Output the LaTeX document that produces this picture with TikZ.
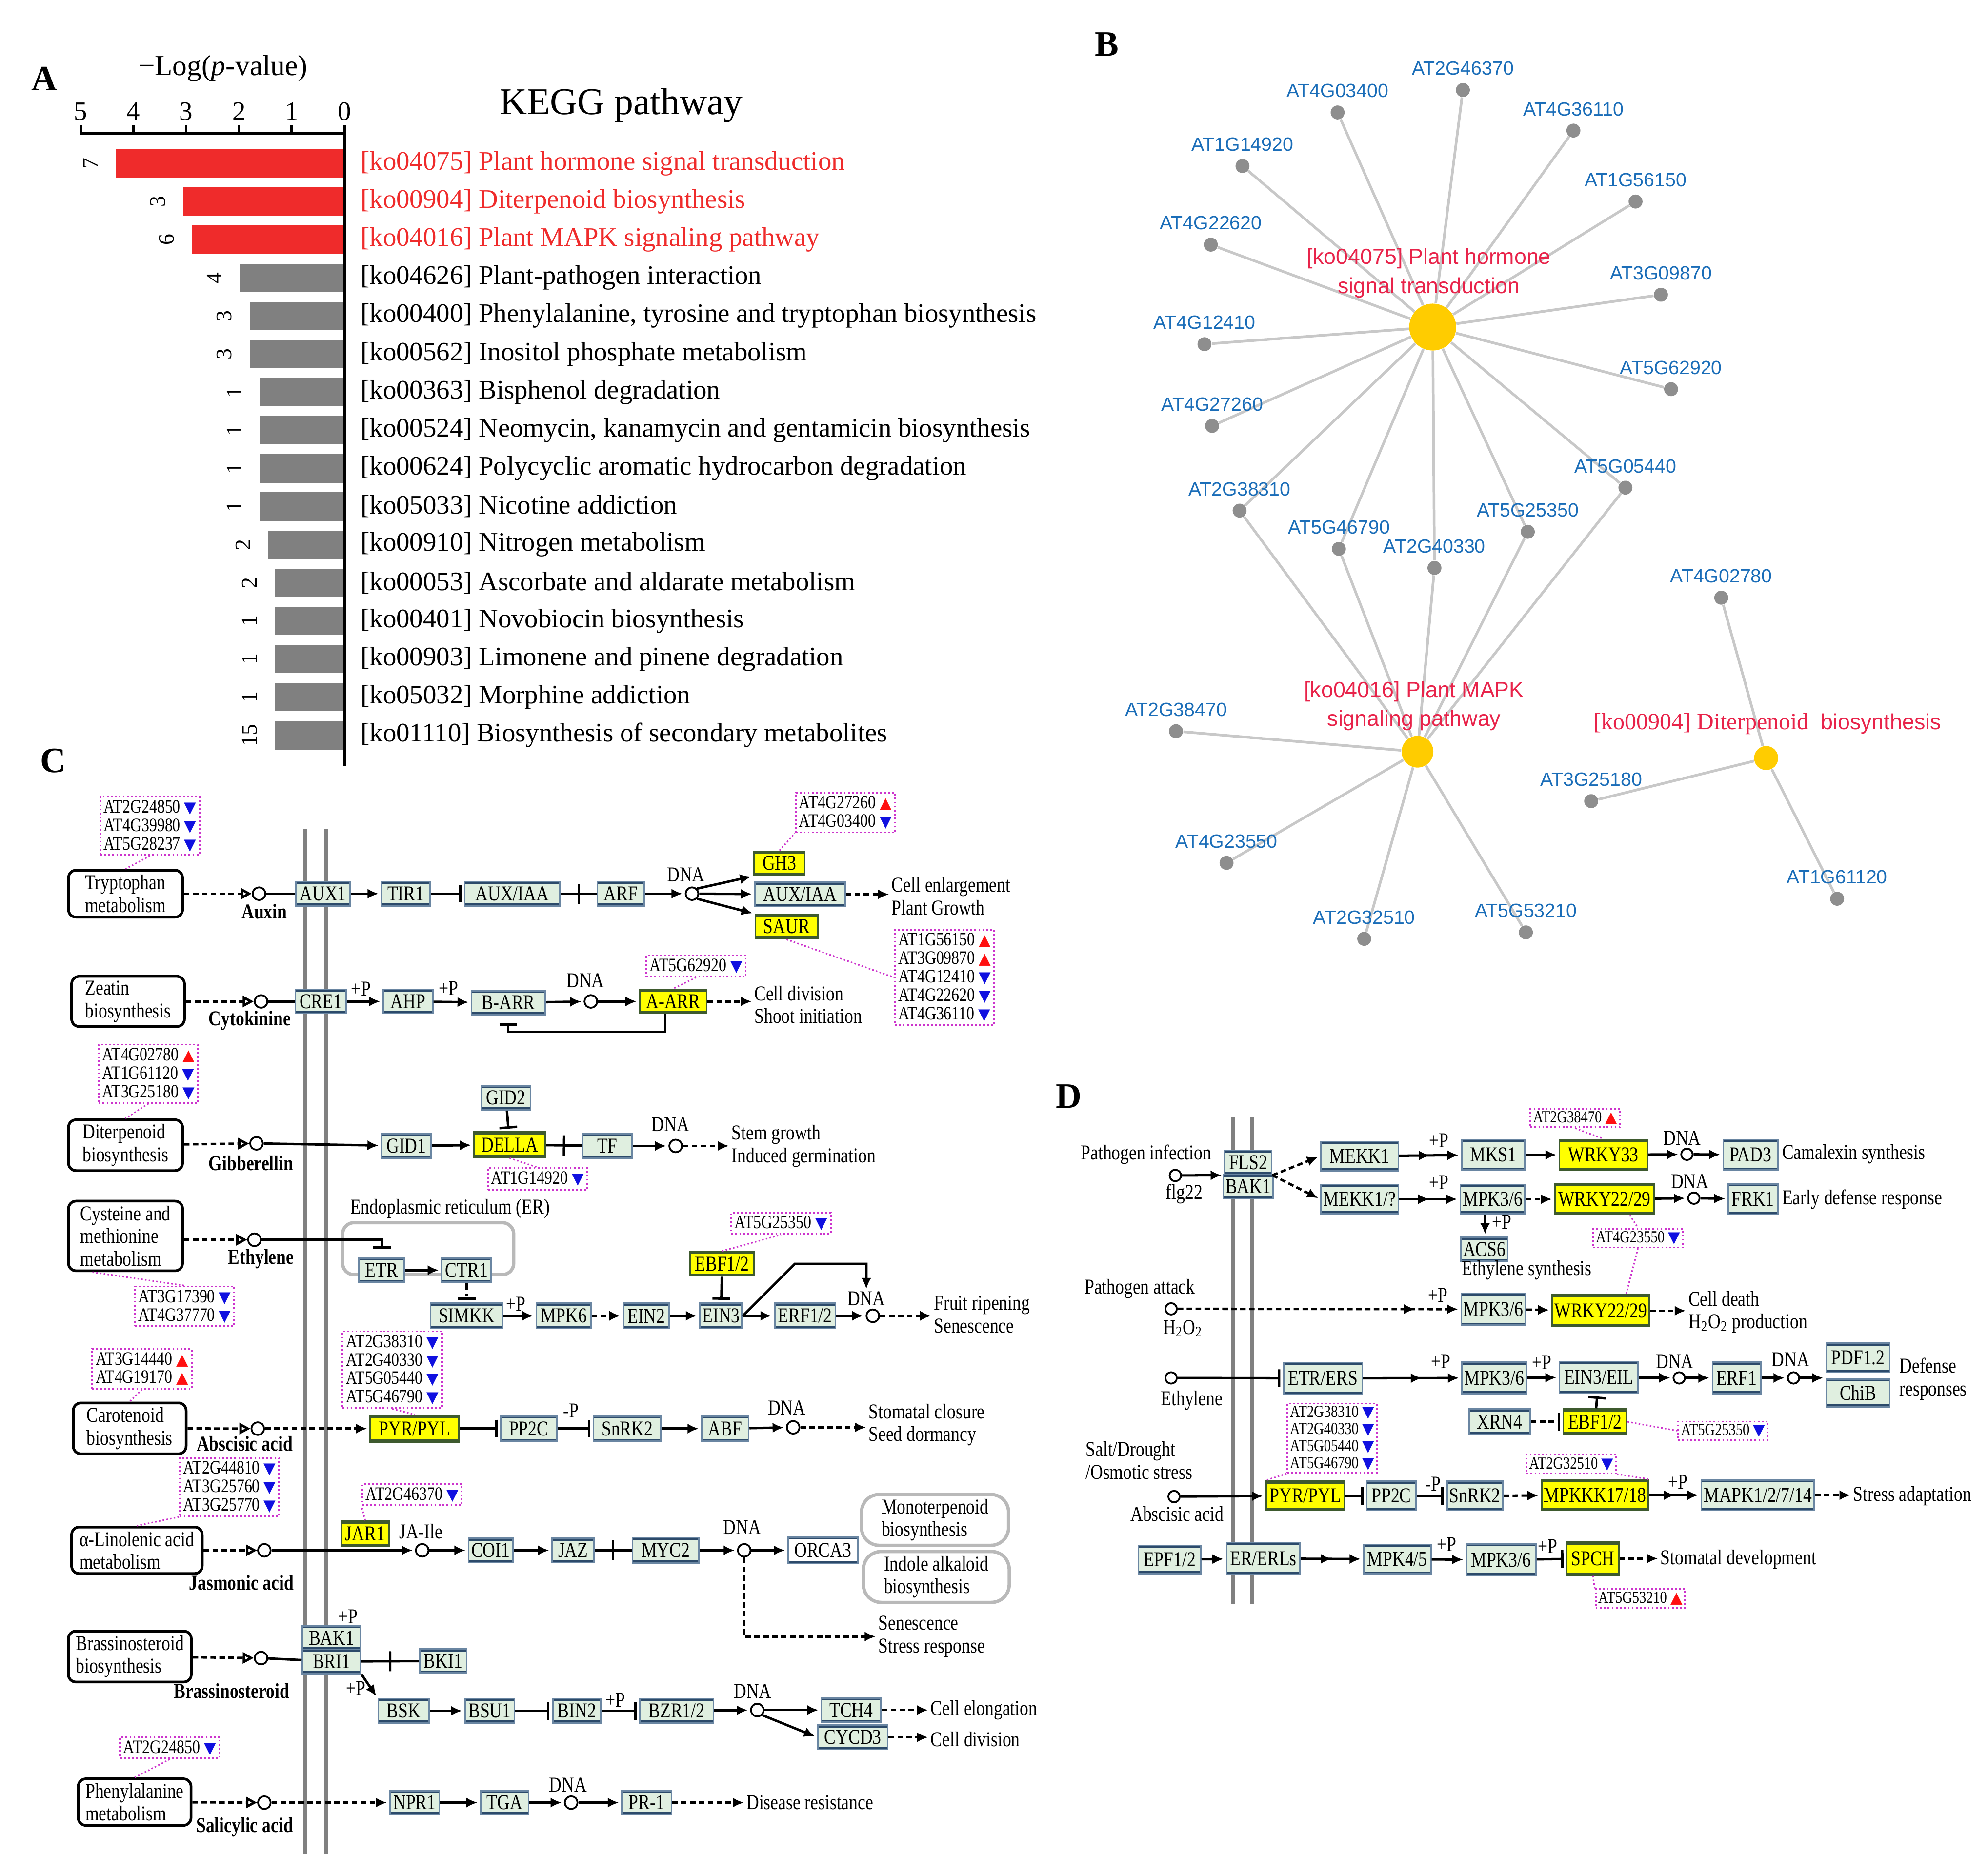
\documentclass[tikz,border=0pt]{standalone}
\usepackage{fontspec}
\setmainfont{Liberation Serif}
\setsansfont{Liberation Sans}
\newfontfamily\condserif[FakeStretch=0.82]{Liberation Serif}
\newfontfamily\symfont{DejaVu Sans}
\usetikzlibrary{arrows.meta, decorations.markings, backgrounds}

\definecolor{kfill}{HTML}{E0EFE0}
\definecolor{kline}{HTML}{6A86A2}
\definecolor{kedge}{HTML}{2C4A6A}
\definecolor{kyellow}{HTML}{FFFF00}
\definecolor{kdark}{HTML}{3E5A2E}
\definecolor{gmag}{HTML}{CC33CC}
\definecolor{upred}{HTML}{FF1010}
\definecolor{dnblue}{HTML}{1010E0}
\definecolor{barred}{HTML}{EF2B2B}
\definecolor{bargray}{HTML}{808080}
\definecolor{geneblue}{HTML}{1A6DB8}
\definecolor{hubred}{HTML}{E8234A}
\definecolor{hubyellow}{HTML}{FFCC00}
\definecolor{dotgray}{HTML}{8E8E8E}
\definecolor{edgegray}{HTML}{C8C8C8}

\newlength\ux
\setlength\ux{0.02cm}
\newcommand\kfont{\condserif\fontsize{9.5}{10.2}\selectfont}
\newcommand\gfont{\condserif\fontsize{8.5}{8.3}\selectfont}
\newcommand\gdfont{\condserif\fontsize{7.6}{7.6}\selectfont}
\newcommand\gup{~{\color{upred}\symfont\fontsize{7}{7}\selectfont ▲}}
\newcommand\gdn{~{\color{dnblue}\symfont\fontsize{7}{7}\selectfont ▼}}

\begin{document}
\begin{tikzpicture}[x=\ux, y=-\ux,
    plab/.style={font=\fontsize{16}{16}\selectfont\bfseries, inner sep=0pt},
    % panel A
    cnt/.style={rotate=90, font=\fontsize{10}{10}\selectfont, inner sep=0pt},
    pw/.style={anchor=west, font=\fontsize{12}{12}\selectfont, inner sep=0pt},
    % panel B
    leaf/.style={circle, fill=dotgray, inner sep=0pt, minimum size=11\ux},
    hub/.style={circle, fill=hubyellow, inner sep=0pt},
    glab/.style={font=\sffamily\fontsize{8.6}{9}\selectfont, text=geneblue, inner sep=0pt},
    hlab/.style={font=\sffamily\fontsize{9.8}{13}\selectfont, text=hubred, align=center, inner sep=0pt},
    edge/.style={draw=edgegray, line width=1.2pt},
    % panels C and D
    bw/.style={minimum width=#1\ux},
    bh/.style={minimum height=#1\ux},
    edges/.style={path picture={\draw[#1, line width=2.2pt]
      (path picture bounding box.north west) -- (path picture bounding box.north east)
      (path picture bounding box.south west) -- (path picture bounding box.south east);}},
    kbox/.style={draw=kline, fill=kfill, line width=0.7pt, minimum height=19\ux, inner sep=1pt, font=\kfont, edges=kedge},
    hit/.style={kbox, fill=kyellow, draw=kdark, edges=kdark},
    cpd/.style={draw, fill=white, line width=1.2pt, rounded corners=6\ux, align=left, font=\kfont, inner sep=2pt},
    mapbox/.style={draw=gray!55, line width=1.5pt, rounded corners=14\ux, align=left, font=\kfont, inner sep=2pt},
    glist/.style={draw=gmag, densely dotted, line width=0.8pt, fill=white, align=left, font=\gfont, inner sep=1.5pt},
    glistd/.style={glist, font=\gdfont, inner sep=1.2pt},
    glink/.style={draw=gmag, densely dotted, line width=0.7pt},
    sig/.style={circle, draw, fill=white, line width=0.8pt, inner sep=0pt, minimum size=10\ux},
    lbl/.style={font=\kfont, inner sep=0pt},
    horm/.style={font=\kfont\bfseries, inner sep=0pt},
    outl/.style={font=\kfont, anchor=west, align=left, inner sep=0pt},
    act/.style={-{Latex[length=5pt,width=4.5pt]}, line width=1.1pt, shorten >=1pt},
    dact/.style={act, dash pattern=on 2.5pt off 1.5pt},
    inh/.style={-{Bar[width=8pt,line width=1.1pt]}, line width=1.1pt, shorten >=2\ux},
    into/.style={-{Triangle[open,length=5pt,width=5pt]}, dash pattern=on 2.5pt off 1.5pt, line width=1.1pt},
    midbar/.style={postaction={decorate, decoration={markings, mark=at position 0.5 with {\draw[-, solid, line width=1pt] (0pt,-4.5pt) -- (0pt,4.5pt);}}}},
    twohead/.style={postaction={decorate, decoration={markings, mark=at position #1 with {\arrow{Latex[length=5pt,width=4.5pt]}}}}},
    twohead/.default=0.5,
    membrane/.style={draw=gray, line width=1.8pt}]
\useasboundingbox (0,0) rectangle (1568,1478);

% ---------------- A: KEGG enrichment bars
\node[plab] (pA) at (35,62) {A};
\node[font=\fontsize{13}{13}\selectfont, inner sep=0pt] (axt) at (176,54) {−Log(\textit{p}-value)};
\node[font=\fontsize{17}{17}\selectfont, inner sep=0pt] (kegg) at (490,83) {KEGG pathway};
\draw[line width=1.3pt] (63.6,105) -- (271.7,105) -- (271.7,604);
\foreach \v in {0,...,5} {
  \draw[line width=1.1pt] (271.7-41.62*\v,105) -- ++(0,-6);
  \node[font=\fontsize{12}{12}\selectfont, inner sep=0pt] (t\v) at (271.7-41.62*\v,88) {\v};
}
\foreach \bl/\cn/\bc/\tc/\txt [count=\i] in {
  91.3/7/barred/barred/{[ko04075] Plant hormone signal transduction},
  144.6/3/barred/barred/{[ko00904] Diterpenoid biosynthesis},
  151.4/6/barred/barred/{[ko04016] Plant MAPK signaling pathway},
  189.1/4/bargray/black/{[ko04626] Plant-pathogen interaction},
  196.9/3/bargray/black/{[ko00400] Phenylalanine, tyrosine and tryptophan biosynthesis},
  196.9/3/bargray/black/{[ko00562] Inositol phosphate metabolism},
  204.8/1/bargray/black/{[ko00363] Bisphenol degradation},
  204.8/1/bargray/black/{[ko00524] Neomycin, kanamycin and gentamicin biosynthesis},
  204.8/1/bargray/black/{[ko00624] Polycyclic aromatic hydrocarbon degradation},
  204.8/1/bargray/black/{[ko05033] Nicotine addiction},
  211.6/2/bargray/black/{[ko00910] Nitrogen metabolism},
  216.8/2/bargray/black/{[ko00053] Ascorbate and aldarate metabolism},
  216.8/1/bargray/black/{[ko00401] Novobiocin biosynthesis},
  216.8/1/bargray/black/{[ko00903] Limonene and pinene degradation},
  216.8/1/bargray/black/{[ko05032] Morphine addiction},
  216.8/15/bargray/black/{[ko01110] Biosynthesis of secondary metabolites}} {
  \pgfmathsetmacro\yy{129+(\i-1)*30.07}
  \fill[\bc] (\bl,\yy-11.2) rectangle (270.5,\yy+11.2);
  \node[cnt] (n\i) at (\bl-20,\yy) {\cn};
  \node[pw, text=\tc] (k\i) at (284.2,\yy) {\txt};
}

% ---------------- B: gene-pathway network
\node[plab] (pB) at (873,35) {B};
\node[hub, minimum size=37\ux] (h75) at (1130,258) {};
\node[hub, minimum size=25\ux] (h16) at (1118,593) {};
\node[hub, minimum size=19\ux] (h904) at (1393,598) {};
\foreach \g/\x/\y in {AT2G46370/1153.8/71, AT4G03400/1055/88.7, AT4G36110/1241/103,
  AT1G14920/980/131, AT1G56150/1290/159, AT4G22620/955/193, AT3G09870/1310/232.5,
  AT4G12410/950/271.5, AT5G62920/1318/307, AT4G27260/956/336, AT5G05440/1282/384.7,
  AT2G38310/977.7/402.8, AT5G25350/1205/419.5, AT5G46790/1056/433, AT2G40330/1131.4/448,
  AT4G02780/1357.6/471.5, AT2G38470/927.5/576.8, AT3G25180/1255/632, AT4G23550/967.4/680.7,
  AT1G61120/1449/709, AT2G32510/1076/740.6, AT5G53210/1203.5/735.5} {
  \node[leaf] (\g) at (\x,\y) {};
  \node[glab] (\g-l) at (\x,\y-17) {\g};
}
\begin{pgfonlayer}{background}
\foreach \g in {AT2G46370, AT4G03400, AT4G36110, AT1G14920, AT1G56150, AT4G22620, AT3G09870,
  AT4G12410, AT5G62920, AT4G27260, AT5G05440, AT2G38310, AT5G25350, AT5G46790, AT2G40330}
  \draw[edge] (h75) -- (\g);
\foreach \g in {AT2G38310, AT5G46790, AT2G40330, AT5G25350, AT5G05440, AT2G38470,
  AT4G23550, AT2G32510, AT5G53210}
  \draw[edge] (h16) -- (\g);
\foreach \g in {AT4G02780, AT3G25180, AT1G61120}
  \draw[edge] (h904) -- (\g);
\end{pgfonlayer}
\node[hlab] (h75-l) at (1127,215.5) {[ko04075] Plant hormone\\signal transduction};
\node[hlab] (h16-l) at (1115.3,557) {[ko04016] Plant MAPK\\signaling pathway};
\node[hlab] (h904-l) at (1394,571) {{\rmfamily\fontsize{10.5}{12}\selectfont [ko00904] Diterpenoid}\ \ biosynthesis};

% ---------------- C: plant hormone signal transduction map
\node[plab] (pC) at (42,600) {C};
\draw[membrane] (240.5,654) -- (240.5,1463);
\draw[membrane] (257.5,654) -- (257.5,1463);

% auxin
\node[glist] (gl1) at (118.3,651.5) {AT2G24850\gdn\\AT4G39980\gdn\\AT5G28237\gdn};
\node[cpd, bw=90, bh=37] (trp) at (99,705) {Tryptophan\\metabolism};
\node[sig] (auxc) at (204.3,705) {};
\node[horm] (auxl) at (208.5,719) {Auxin};
\node[kbox, bw=43] (aux1) at (254.8,705) {AUX1};
\node[kbox, bw=38] (tir1) at (320,705) {TIR1};
\node[kbox, bw=75] (auxiaa) at (404,705) {AUX/IAA};
\node[kbox, bw=37] (arf) at (489.6,705) {ARF};
\node[sig] (dna1) at (545.8,705) {};
\node[lbl] (dna1l) at (541,690) {DNA};
\node[hit, bw=40] (gh3) at (614.8,681) {GH3};
\node[kbox, bw=71] (auxiaa2) at (631,705.5) {AUX/IAA};
\node[hit, bw=49] (saur) at (620.4,731) {SAUR};
\node[outl] (out1) at (703,707) {Cell enlargement\\Plant Growth};
\node[glist] (gl2) at (666.8,641) {AT4G27260\gup\\AT4G03400\gdn};
\node[glist] (gl3) at (745,771) {AT1G56150\gup\\AT3G09870\gup\\AT4G12410\gdn\\AT4G22620\gdn\\AT4G36110\gdn};
\draw[glink] (gl1.south) -- (trp.north);
\draw[into] (trp) -- (auxc);
\draw[line width=1.1pt] (auxc) -- (aux1);
\draw[act] (aux1) -- (tir1);
\draw[inh] (tir1) -- (auxiaa);
\draw[line width=1.1pt, midbar] (auxiaa) -- (arf);
\draw[act] (arf) -- (dna1);
\draw[act] (dna1.north east) -- (gh3.south west);
\draw[act] (dna1) -- (auxiaa2);
\draw[act] (dna1.south east) -- (saur.north west);
\draw[dact] (auxiaa2) -- (auxiaa2 -| out1.west);
\draw[glink] (gh3.north) -- (gl2.south west);
\draw[glink] (saur.south) -- (gl3.west);

% cytokinine
\node[cpd, bw=89, bh=37] (zea) at (101,790) {Zeatin\\biosynthesis};
\node[sig] (cytc) at (205.9,790) {};
\node[horm] (cytl) at (197,805) {Cytokinine};
\node[kbox, bw=40] (cre1) at (253,790) {CRE1};
\node[lbl] (p1) at (284.7,780) {+P};
\node[kbox, bw=39] (ahp) at (321.8,790) {AHP};
\node[lbl] (p2) at (353.7,779.5) {+P};
\node[kbox, bw=58] (barr) at (401,791) {B-ARR};
\node[lbl] (dna2l) at (461.8,773.5) {DNA};
\node[sig] (dna2) at (466,790) {};
\node[hit, bw=53] (aarr) at (531,790) {A-ARR};
\node[outl] (out2) at (594.7,792.5) {Cell division\\Shoot initiation};
\node[glist] (gl4) at (549,762) {AT5G62920\gdn};
\draw[into] (zea) -- (cytc);
\draw[line width=1.1pt] (cytc) -- (cre1);
\draw[act] (cre1) -- (ahp);
\draw[act] (ahp) -- (barr);
\draw[act] (barr) -- (dna2);
\draw[act] (dna2) -- (aarr);
\draw[dact] (aarr) -- (aarr -| out2.west);
\draw[glink] (gl4.south) -- (aarr.north);
\draw[inh, line width=0.9pt] ([xshift=-6\ux]aarr.south) -- ++(0,14) -| ([yshift=-4\ux]barr.south);

% gibberellin
\node[glist] (gl5) at (117,847) {AT4G02780\gup\\AT1G61120\gdn\\AT3G25180\gdn};
\node[cpd, bw=90, bh=37] (dit) at (99,903.4) {Diterpenoid\\biosynthesis};
\node[sig] (gibc) at (202.3,902) {};
\node[horm] (gibl) at (198,917.6) {Gibberellin};
\node[kbox, bw=39] (gid1) at (320.5,904) {GID1};
\node[hit, bw=56, bh=20] (della) at (402,903) {DELLA};
\node[kbox, bw=39] (gid2) at (399,866) {GID2};
\node[kbox, bw=39] (tf) at (479,904) {TF};
\node[lbl] (dna3l) at (528.8,887) {DNA};
\node[sig] (dna3) at (532.9,904) {};
\node[outl] (out3) at (576.7,904) {Stem growth\\Induced germination};
\node[glist] (gl6) at (424,930) {AT1G14920\gdn};
\draw[glink] (gl5.south) -- (dit.north);
\draw[into] (dit) -- (gibc);
\draw[act] (gibc) -- (gid1);
\draw[act] (gid1) -- (della);
\draw[inh] (gid2) -- (della);
\draw[line width=1.1pt, midbar] (della) -- (tf);
\draw[act] (tf) -- (dna3);
\draw[dact] (dna3) -- (dna3 -| out3.west);
\draw[glink] (della.south) -- (gl6.north);

% ethylene
\node[cpd, bw=90, bh=55] (cys) at (99,975) {Cysteine and\\methionine\\metabolism};
\node[glist] (gl7) at (145.6,1030.5) {AT3G17390\gdn\\AT4G37770\gdn};
\node[sig] (ethc) at (200.7,978) {};
\node[horm] (ethl) at (205.9,993) {Ethylene};
\node[lbl] (erl) at (355,953.5) {Endoplasmic reticulum (ER)};
\node[mapbox, rounded corners=9\ux, bw=135, bh=41] (er) at (337.7,985) {};
\node[kbox, bw=36] (etr) at (301,1002) {ETR};
\node[kbox, bw=39] (ctr1) at (368,1002) {CTR1};
\node[kbox, bw=57, bh=20] (simkk) at (368,1038) {SIMKK};
\node[lbl] (p3) at (406.7,1028.6) {+P};
\node[kbox, bw=43, bh=20] (mpk6) at (444.6,1038) {MPK6};
\node[kbox, bw=36, bh=20] (ein2) at (509.8,1038) {EIN2};
\node[kbox, bw=33, bh=20] (ein3) at (568.7,1038) {EIN3};
\node[hit, bw=50] (ebf) at (569.5,997) {EBF1/2};
\node[glist] (gl8) at (616,965) {AT5G25350\gdn};
\node[kbox, bw=48, bh=20] (erf12) at (635,1038) {ERF1/2};
\node[lbl] (dna4l) at (683.3,1024.5) {DNA};
\node[sig] (dna4) at (688.4,1038) {};
\node[outl] (out4) at (736.3,1037) {Fruit ripening\\Senescence};
\draw[glink] ([xshift=20\ux]cys.south west) -- (gl7.north);
\draw[into] (cys.east |- ethc) -- (ethc);
\draw[inh] (ethc) -| ([yshift=5\ux]etr.north);
\draw[act] (etr) -- (ctr1);
\draw[inh, dash dot] (ctr1) -- (simkk);
\draw[act] (simkk) -- (mpk6);
\draw[dact] (mpk6) -- (ein2);
\draw[act] (ein2) -- (ein3);
\draw[inh] (ebf) -- (ein3);
\draw[glink] (ebf.north) -- (gl8.south);
\draw[act] (ein3) -- (erf12);
\draw[act] (erf12) -- (dna4);
\draw[act] (ein3.east) -- ++(41,-41) -| (dna4l.north);
\draw[dact] (dna4) -- (dna4 -| out4.west);

% abscisic acid
\node[glist] (gl9) at (309.4,1080.5) {AT2G38310\gdn\\AT2G40330\gdn\\AT5G05440\gdn\\AT5G46790\gdn};
\node[glist] (gl10) at (112,1079.7) {AT3G14440\gup\\AT4G19170\gup};
\node[cpd, bw=89, bh=36] (car) at (102.3,1126.8) {Carotenoid\\biosynthesis};
\node[sig] (abac) at (203.3,1127) {};
\node[horm] (abal) at (193,1139) {Abscisic acid};
\node[hit, bw=70, bh=21] (pyr) at (327,1127) {PYR/PYL};
\node[kbox, bw=44, bh=20] (pp2c) at (417,1127) {PP2C};
\node[lbl] (pm1) at (450.5,1113) {-P};
\node[kbox, bw=53, bh=20] (snrk2) at (494.7,1127) {SnRK2};
\node[kbox, bw=37, bh=20] (abf) at (572,1127) {ABF};
\node[lbl] (dna5l) at (620.5,1110.7) {DNA};
\node[sig] (dna5) at (625.6,1126) {};
\node[outl] (out5) at (684.8,1124) {Stomatal closure\\Seed dormancy};
\draw[glink] (gl10.south) -- (car.north);
\draw[into] (car) -- (abac);
\draw[dact] (abac) -- (pyr);
\draw[inh] (pyr) -- (pp2c);
\draw[inh] (pp2c) -- (snrk2);
\draw[act] (snrk2) -- (abf);
\draw[act] (abf) -- (dna5);
\draw[dact] (dna5) -- (dna5 -| out5.west);
\draw[glink] (gl9.south) -- (pyr.north);

% jasmonic acid
\node[glist] (gl11) at (181,1173) {AT2G44810\gdn\\AT3G25760\gdn\\AT3G25770\gdn};
\node[cpd, bw=103, bh=36] (lin) at (108,1223) {α-Linolenic acid\\metabolism};
\node[sig] (jac) at (208.5,1223) {};
\node[horm] (jal) at (190.4,1248.6) {Jasmonic acid};
\node[hit, bw=38, bh=20] (jar1) at (288,1210) {JAR1};
\node[glist] (gl12) at (325,1179) {AT2G46370\gdn};
\node[lbl] (jail) at (332,1208) {JA-Ile};
\node[sig] (jaic) at (333,1223) {};
\node[kbox, bw=35] (coi1) at (387,1223) {COI1};
\node[kbox, bw=33] (jaz) at (452,1223) {JAZ};
\node[kbox, bw=52, bh=20] (myc2) at (525,1223) {MYC2};
\node[lbl] (dna6l) at (585.4,1205) {DNA};
\node[sig] (dna6) at (587,1223) {};
\node[kbox, fill=white, bw=55, bh=21] (orca3) at (649,1223) {ORCA3};
\node[mapbox, bw=116, bh=40] (mono) at (737.5,1199) {Monoterpenoid\\biosynthesis};
\node[mapbox, bw=115, bh=39] (indo) at (738.5,1244) {Indole alkaloid\\biosynthesis};
\node[outl] (out6) at (692.5,1291) {Senescence\\Stress response};
\draw[glink] (gl11.south west) -- (lin.north);
\draw[into] (lin) -- (jac);
\draw[act] (jac) -- (jaic);
\draw[glink] (jar1.north) -- (gl12.south west);
\draw[act] (jaic) -- (coi1);
\draw[act] (coi1) -- (jaz);
\draw[line width=1.1pt, midbar] (jaz) -- (myc2);
\draw[act] (myc2) -- (dna6);
\draw[act] (dna6) -- (orca3);
\draw[dact] (dna6.south) |- (out6.west);

% brassinosteroid
\node[cpd, bw=97, bh=36] (bra) at (102.4,1306.8) {Brassinosteroid\\biosynthesis};
\node[sig] (brc) at (205.9,1308) {};
\node[horm] (brl) at (182.7,1334) {Brassinosteroid};
\node[lbl] (p4) at (274.4,1275.4) {+P};
\node[kbox, bw=46, bh=19] (bak1) at (261.5,1292) {BAK1};
\node[kbox, bw=46, bh=19] (bri1) at (261.5,1310.7) {BRI1};
\node[kbox, bw=37] (bki1) at (349.5,1310.3) {BKI1};
\node[lbl] (p5) at (280.6,1332) {+P};
\node[kbox, bw=40] (bsk) at (318.4,1349.6) {BSK};
\node[kbox, bw=39] (bsu1) at (386.3,1349.6) {BSU1};
\node[kbox, bw=38] (bin2) at (455,1349.6) {BIN2};
\node[lbl] (p6) at (485.5,1341) {+P};
\node[kbox, bw=58] (bzr) at (533.7,1349.6) {BZR1/2};
\node[lbl] (dna7l) at (593.7,1334) {DNA};
\node[sig] (dna7) at (597.3,1349) {};
\node[kbox, bw=47] (tch4) at (671.4,1349) {TCH4};
\node[kbox, bw=55] (cycd3) at (672.7,1370.5) {CYCD3};
\node[outl] (out7) at (733.8,1349) {Cell elongation};
\node[outl] (out8) at (733.8,1372) {Cell division};
\draw[into] (bra) -- (brc);
\draw[line width=1.1pt] (brc) -- (bri1);
\draw[line width=1.1pt, midbar] (bri1) -- (bki1);
\draw[act] (bri1.south east) -- (bsk.north west);
\draw[act] (bsk) -- (bsu1);
\draw[inh] (bsu1) -- (bin2);
\draw[inh] (bin2) -- (bzr);
\draw[act] (bzr) -- (dna7);
\draw[act] (dna7) -- (tch4);
\draw[act] (dna7.south east) -- (cycd3.west);
\draw[dact] (tch4) -- (tch4 -| out7.west);
\draw[dact] (cycd3) -- (cycd3 -| out8.west);

% salicylic acid
\node[glist] (gl13) at (133.8,1378.8) {AT2G24850\gdn};
\node[cpd, bw=89, bh=36] (phe) at (106.2,1421.6) {Phenylalanine\\metabolism};
\node[sig] (sac) at (208.5,1422) {};
\node[horm] (sal) at (193,1441.4) {Salicylic acid};
\node[kbox, bw=39] (npr1) at (327,1422) {NPR1};
\node[kbox, bw=38] (tga) at (398,1422) {TGA};
\node[lbl] (dna8l) at (448,1408) {DNA};
\node[sig] (dna8) at (450.5,1422) {};
\node[kbox, bw=39] (pr1) at (510,1422) {PR-1};
\node[outl] (out9) at (588.5,1422) {Disease resistance};
\draw[glink] (gl13.south) -- (phe.north);
\draw[into] (phe) -- (sac);
\draw[dact] (sac) -- (npr1);
\draw[act] (npr1) -- (tga);
\draw[act] (tga) -- (dna8);
\draw[act] (dna8) -- (pr1);
\draw[dact] (pr1) -- (out9.west);

% ---------------- D: plant MAPK signaling map
\node[plab] (pD) at (843,865) {D};
\draw[membrane] (972.8,881.7) -- (972.8,1265);
\draw[membrane] (987.8,881.7) -- (987.8,1265);

% pathogen infection
\node[lbl] (pinf) at (904,910.6) {Pathogen infection};
\node[sig, minimum size=9\ux] (flgc) at (927,927.3) {};
\node[lbl] (flgl) at (934,942) {flg22};
\node[kbox, bw=37, bh=19] (fls2) at (984.5,917) {FLS2};
\node[kbox, bw=37, bh=19] (dbak1) at (984.5,936) {BAK1};
\node[kbox, bw=61, bh=23] (mekk1) at (1072.4,912) {MEKK1};
\node[lbl] (pd1) at (1135,899.7) {+P};
\node[kbox, bw=50, bh=24] (mks1) at (1177.8,911) {MKS1};
\node[hit, bw=69, bh=24] (wrky33) at (1264.6,911) {WRKY33};
\node[lbl] (dnad1l) at (1326.7,897.8) {DNA};
\node[sig, minimum size=9\ux] (dnad1) at (1330.5,910.6) {};
\node[kbox, bw=43, bh=24] (pad3) at (1380.7,911) {PAD3};
\node[outl] (cam) at (1405.3,910.6) {Camalexin synthesis};
\node[glistd] (gld1) at (1242.4,882) {AT2G38470\gup};
\node[kbox, bw=61, bh=23] (mekk2) at (1072.4,946) {MEKK1/?};
\node[lbl] (pd2) at (1135,933) {+P};
\node[kbox, bw=51, bh=23] (mpk36a) at (1177.3,946) {MPK3/6};
\node[hit, bw=78, bh=24] (wrky2229a) at (1265.5,946) {WRKY22/29};
\node[lbl] (dnad2l) at (1332.8,932.2) {DNA};
\node[sig, minimum size=9\ux] (dnad2) at (1336,945.2) {};
\node[kbox, bw=39, bh=24] (frk1) at (1382.6,946) {FRK1};
\node[outl] (edr) at (1405.3,946) {Early defense response};
\node[kbox, bw=36, bh=19] (acs6) at (1170.8,985.5) {ACS6};
\node[lbl] (pd3) at (1184.6,963.8) {+P};
\node[outl] (ethsyn) at (1152.8,1002) {Ethylene synthesis};
\node[glistd] (gld2) at (1291.9,976.7) {AT4G23550\gdn};
\draw[act] (flgc) -- (fls2.south west);
\draw[dact] (fls2.south east) -- (mekk1.west);
\draw[dact] (fls2.south east) -- (mekk2.west);
\draw[act, twohead] (mekk1) -- (mks1);
\draw[act] (mks1) -- (wrky33);
\draw[act] (wrky33) -- (dnad1);
\draw[act] (dnad1) -- (pad3);
\draw[glink] (gld1.south) -- (wrky33.north);
\draw[act, twohead] (mekk2) -- (mpk36a);
\draw[dact] (mpk36a) -- (wrky2229a);
\draw[act] (wrky2229a) -- (dnad2);
\draw[act] (dnad2) -- (frk1);
\draw[act] ([xshift=-6\ux]mpk36a.south) -- ([xshift=-6\ux]mpk36a.south |- acs6.north);
\draw[glink] ([xshift=20\ux]wrky2229a.south) -- (gld2.north);

% pathogen attack
\node[lbl] (patt) at (899,1016.5) {Pathogen attack};
\node[sig, minimum size=9\ux] (h2o2c) at (923.7,1032.5) {};
\node[lbl] (h2o2l) at (933,1048) {H\textsubscript{2}O\textsubscript{2}};
\node[lbl] (pd4) at (1134,1021.6) {+P};
\node[kbox, bw=50, bh=25] (mpk36b) at (1177.8,1032.8) {MPK3/6};
\node[hit, bw=75, bh=25] (wrky2229b) at (1262.6,1034) {WRKY22/29};
\node[outl] (celld) at (1331.4,1035) {Cell death\\H\textsubscript{2}O\textsubscript{2} production};
\draw[dact, twohead=0.84] (h2o2c) -- (mpk36b);
\draw[dact] (mpk36b) -- (wrky2229b);
\draw[dact] (wrky2229b) -- (wrky2229b -| celld.west);
\draw[glink] (gld2.south) -- ([xshift=20\ux]wrky2229b.north);

% ethylene
\node[sig, minimum size=9\ux] (ethdc) at (923.7,1087) {};
\node[lbl] (ethdl) at (940,1104.8) {Ethylene};
\node[kbox, bw=62, bh=25] (etrers) at (1043.4,1087.3) {ETR/ERS};
\node[lbl] (pd5) at (1136.4,1074.1) {+P};
\node[kbox, bw=49, bh=25] (mpk36c) at (1178.5,1087) {MPK3/6};
\node[lbl] (pd6) at (1216,1074.8) {+P};
\node[kbox, bw=62, bh=25] (ein3eil) at (1261,1086.5) {EIN3/EIL};
\node[lbl] (dnad3l) at (1321,1074) {DNA};
\node[sig, minimum size=9\ux] (dnad3) at (1324.4,1087) {};
\node[kbox, bw=38, bh=25] (erf1) at (1369.7,1087) {ERF1};
\node[lbl] (dnad4l) at (1412.3,1072.6) {DNA};
\node[sig, minimum size=9\ux] (dnad4) at (1414.6,1087) {};
\node[kbox, bw=50, bh=23] (pdf12) at (1465.5,1071) {PDF1.2};
\node[kbox, bw=50, bh=22] (chib) at (1465.5,1098.8) {ChiB};
\node[outl] (defr) at (1497.8,1088) {Defense\\responses};
\node[kbox, bw=48, bh=20] (xrn4) at (1182.8,1121.6) {XRN4};
\node[hit, bw=50, bh=20] (debf) at (1258,1121.6) {EBF1/2};
\node[glistd] (gld3) at (1359,1128.7) {AT5G25350\gdn};
\draw[inh] (ethdc) -- (etrers);
\draw[act, twohead=0.6] (etrers) -- (mpk36c);
\draw[act] (mpk36c) -- (ein3eil);
\draw[act] (ein3eil) -- (dnad3);
\draw[act] (dnad3) -- (erf1);
\draw[act] (erf1) -- (dnad4);
\draw[act] (dnad4) -- (dnad4 -| pdf12.west);
\draw[inh] (debf) -- (ein3eil);
\draw[inh, dash pattern=on 2.5pt off 1.5pt] (xrn4) -- (debf);
\draw[glink] (debf.east) -- (gld3.west);

% abscisic acid
\node[glistd] (gld4) at (1050.6,1134.5) {AT2G38310\gdn\\AT2G40330\gdn\\AT5G05440\gdn\\AT5G46790\gdn};
\node[outl] (salt) at (856,1152) {Salt/Drought\\/Osmotic stress};
\node[sig, minimum size=9\ux] (dabac) at (926,1180.6) {};
\node[lbl] (dabal) at (928.4,1194.2) {Abscisic acid};
\node[hit, bw=62, bh=23] (dpyr) at (1029.6,1180) {PYR/PYL};
\node[kbox, bw=39, bh=23] (dpp2c) at (1097.4,1180) {PP2C};
\node[lbl] (pdm) at (1130.4,1170.6) {-P};
\node[kbox, bw=44, bh=23] (dsnrk2) at (1163.3,1180) {SnRK2};
\node[hit, bw=84, bh=24] (mpkkk) at (1258,1179.5) {MPKKK17/18};
\node[glistd] (gld5) at (1239.3,1154.9) {AT2G32510\gdn};
\node[lbl] (pd7) at (1323.4,1169.2) {+P};
\node[kbox, bw=89, bh=24] (mapk) at (1386.5,1179.5) {MAPK1/2/7/14};
\node[outl] (stradapt) at (1461.4,1180) {Stress adaptation};
\draw[glink] (gld4.south west) -- (dpyr.north west);
\draw[act] (dabac) -- (dpyr);
\draw[inh] (dpyr) -- (dpp2c);
\draw[inh] (dpp2c) -- (dsnrk2);
\draw[dact] (dsnrk2) -- (mpkkk);
\draw[act, twohead] (mpkkk) -- (mapk);
\draw[dact] (mapk) -- (mapk -| stradapt.west);
\draw[glink] (gld5.south east) -- (mpkkk.north east);

% stomatal development
\node[kbox, bw=49, bh=22] (epf) at (922.5,1230.3) {EPF1/2};
\node[kbox, bw=58, bh=25] (erl2) at (996.4,1229.5) {ER/ERLs};
\node[kbox, bw=53, bh=23] (mpk45) at (1102.1,1230) {MPK4/5};
\node[lbl] (pd8) at (1141.1,1218.5) {+P};
\node[kbox, bw=55, bh=25] (mpk36d) at (1183.9,1230.5) {MPK3/6};
\node[lbl] (pd9) at (1220.6,1220) {+P};
\node[hit, bw=41, bh=26] (spch) at (1256.3,1229.5) {SPCH};
\node[outl] (stom) at (1309.4,1230) {Stomatal development};
\node[glistd] (gld6) at (1293.8,1261) {AT5G53210\gup};
\draw[act] (epf) -- (erl2);
\draw[act, twohead] (erl2) -- (mpk45);
\draw[act] (mpk45) -- (mpk36d);
\draw[inh] (mpk36d) -- (spch);
\draw[dact] (spch) -- (spch -| stom.west);
\draw[glink] (spch.south) -- (gld6.north west);
\end{tikzpicture}
\end{document}
